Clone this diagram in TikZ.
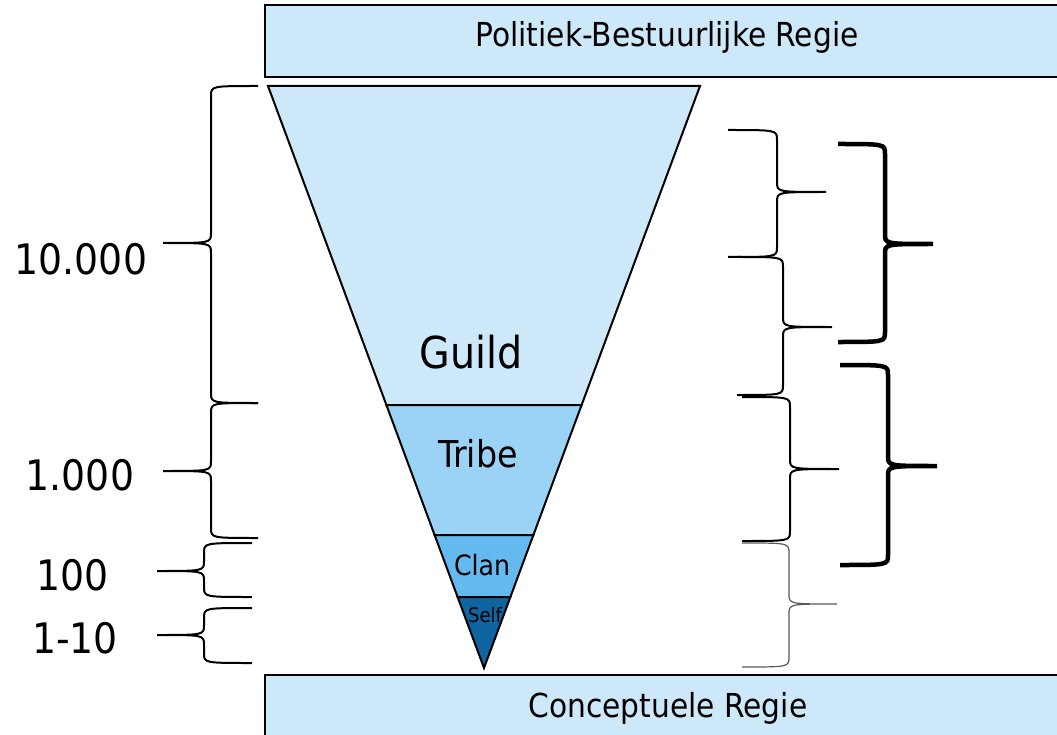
\documentclass[tikz,border=0pt]{standalone}
\usepackage{fontspec}
\setmainfont{DejaVu Sans Condensed}

\definecolor{guildblue}{HTML}{CDE8F9}
\definecolor{tribeblue}{HTML}{9AD3F6}
\definecolor{clanblue}{HTML}{64B9EF}
\definecolor{selfblue}{HTML}{0E65A0}

% curly brace: [style] end x, top y, bottom y, spine x, tip x, tip y
\newcommand{\curly}[7][]{%
  \draw[#1] (#2,#3) .. controls (#5,#3) .. (#5,#3+10) -- (#5,#7-10)
    .. controls (#5,#7) .. (#6,#7) .. controls (#5,#7) .. (#5,#7+10)
    -- (#5,#4-10) .. controls (#5,#4) .. (#2,#4);}

\begin{document}
\begin{tikzpicture}[x=1pt,y=-1pt,
    lbl/.style={anchor=base,inner sep=0pt}]
  \useasboundingbox (0,0) rectangle (1057,735);
  \clip (0,0) rectangle (1057,735);

  % regie bars
  \filldraw[fill=guildblue,line width=2pt] (265,5) rectangle (1072,77);
  \filldraw[fill=guildblue,line width=2pt] (265,675) rectangle (1072,760);
  \node[lbl,font=\fontsize{33}{37}\selectfont] (politiek) at (667,47) {Politiek-Bestuurlijke Regie};
  \node[lbl,font=\fontsize{33}{37}\selectfont] (concept) at (668,717) {Conceptuele Regie};

  % funnel
  \filldraw[fill=guildblue,line width=2pt] (268,86) -- (700,86) -- (581.6,405) -- (386.4,405) -- cycle;
  \filldraw[fill=tribeblue,line width=2pt] (386.4,405) -- (581.6,405) -- (533.4,535) -- (434.6,535) -- cycle;
  \filldraw[fill=clanblue,line width=2pt] (434.6,535) -- (533.4,535) -- (510.4,597) -- (457.6,597) -- cycle;
  \filldraw[fill=selfblue,line width=2pt] (457.6,597) -- (510.4,597) -- (484,668) -- cycle;
  \node[lbl,font=\fontsize{44}{48}\selectfont] (guild) at (471,368) {Guild};
  \node[lbl,font=\fontsize{37}{41}\selectfont] (tribe) at (478,467) {Tribe};
  \node[lbl,font=\fontsize{28}{32}\selectfont] (clan) at (482,575) {Clan};
  \node[lbl,font=\fontsize{20}{24}\selectfont] (self) at (485,622) {Self};

  % left braces
  \curly[line width=2pt]{258}{86}{403}{211}{163}{243}
  \curly[line width=2pt]{258}{403}{538}{211}{163}{471}
  \curly[line width=2pt]{252}{543}{597}{204}{157}{571}
  \curly[line width=2pt]{252}{608}{663}{204}{157}{635}
  \node[lbl,font=\fontsize{42}{46}\selectfont] (n10000) at (81,275) {10.000};
  \node[lbl,font=\fontsize{42}{46}\selectfont] (n1000) at (80,490) {1.000};
  \node[lbl,font=\fontsize{42}{46}\selectfont] (n100) at (73,590) {100};
  \node[lbl,font=\fontsize{42}{46}\selectfont] (n110) at (75,653) {1-10};

  % right braces
  \curly[line width=2pt]{728}{130}{257}{777}{826}{192}
  \curly[line width=2pt]{737}{257}{395}{783}{832}{327}
  \curly[line width=2pt]{742}{397}{541}{790}{839}{469}
  \curly[line width=1.2pt,black!65]{742}{543}{667}{789}{837}{604}
  \curly[line width=4.5pt]{838}{144}{342}{885}{933}{244}
  \curly[line width=4.5pt]{840}{365}{565}{888}{937}{466}
\end{tikzpicture}
\end{document}
